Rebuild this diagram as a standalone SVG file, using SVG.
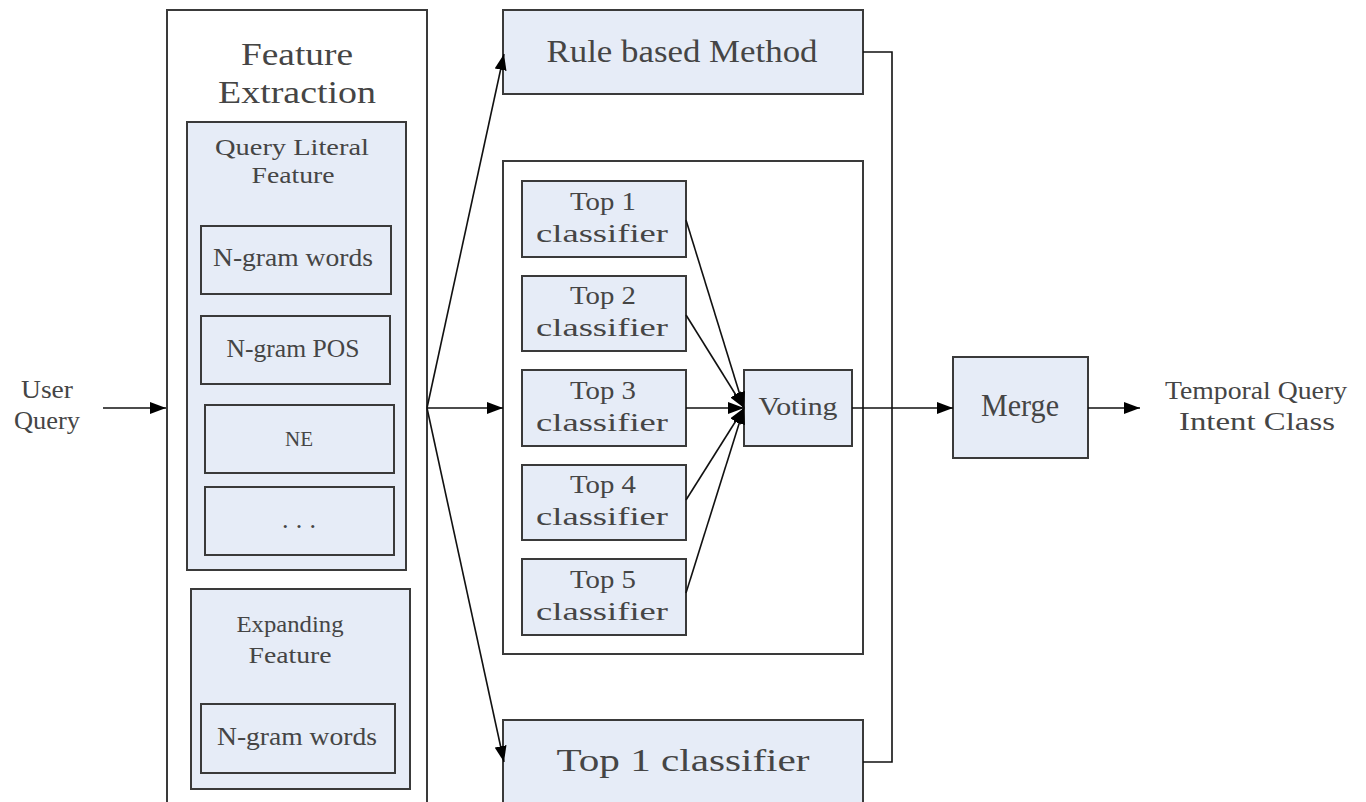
<svg xmlns="http://www.w3.org/2000/svg" width="1366" height="802" viewBox="0 0 1366 802">
<defs>
<style>
.box{fill:#e6ecf7;stroke:#3a3a3a;stroke-width:2}
.frame{fill:#ffffff;stroke:#3a3a3a;stroke-width:2}
.t{font-family:"Liberation Serif","DejaVu Serif",serif;fill:#454545;text-anchor:middle}
.big{font-size:31px}
.med{font-size:26px}
.sml{font-size:23px}
.c{fill:none;stroke:#111;stroke-width:1.6}
</style>
<marker id="ah" viewBox="0 0 16 12" refX="16" refY="6" markerWidth="16" markerHeight="12" markerUnits="userSpaceOnUse" orient="auto">
<path d="M0,0 L16,6 L0,12 z" fill="#000"/>
</marker>
</defs>
<rect width="1366" height="802" fill="#ffffff"/>

<g id="user-query">
<text class="t med" x="47" y="398" textLength="52" lengthAdjust="spacingAndGlyphs">User</text>
<text class="t med" x="47" y="429" textLength="66" lengthAdjust="spacingAndGlyphs">Query</text>
</g>

<g id="feature-extraction">
<rect class="frame" x="167" y="10" width="260" height="800"/>
<text class="t big" x="297" y="65" textLength="112" lengthAdjust="spacingAndGlyphs">Feature</text>
<text class="t big" x="297" y="103" textLength="158" lengthAdjust="spacingAndGlyphs">Extraction</text>
</g>

<g id="query-literal-feature">
<rect class="box" x="187" y="122" width="219" height="448"/>
<text class="t sml" x="292" y="155" textLength="154" lengthAdjust="spacingAndGlyphs">Query Literal</text>
<text class="t sml" x="293" y="183" textLength="83" lengthAdjust="spacingAndGlyphs">Feature</text>
</g>
<g id="ngram-words-1">
<rect class="box" x="201" y="226" width="190" height="68"/>
<text class="t med" x="293" y="266" textLength="160" lengthAdjust="spacingAndGlyphs">N-gram words</text>
</g>
<g id="ngram-pos">
<rect class="box" x="201" y="316" width="189" height="68"/>
<text class="t med" x="293" y="357" textLength="133" lengthAdjust="spacingAndGlyphs">N-gram POS</text>
</g>
<g id="ne">
<rect class="box" x="205" y="405" width="189" height="68"/>
<text class="t" x="299" y="446" style="font-size:22px" textLength="28" lengthAdjust="spacingAndGlyphs">NE</text>
</g>
<g id="ellipsis">
<rect class="box" x="205" y="487" width="189" height="68"/>
<text class="t med" x="299" y="528" textLength="34" lengthAdjust="spacing">...</text>
</g>

<g id="expanding-feature">
<rect class="box" x="191" y="589" width="219" height="200"/>
<text class="t sml" x="290" y="632" textLength="107" lengthAdjust="spacingAndGlyphs">Expanding</text>
<text class="t sml" x="290" y="663" textLength="83" lengthAdjust="spacingAndGlyphs">Feature</text>
</g>
<g id="ngram-words-2">
<rect class="box" x="201" y="704" width="194" height="69"/>
<text class="t med" x="297" y="745" textLength="160" lengthAdjust="spacingAndGlyphs">N-gram words</text>
</g>

<g id="rule-based-method">
<rect class="box" x="503" y="10" width="360" height="84"/>
<text class="t big" x="682" y="62" textLength="271" lengthAdjust="spacingAndGlyphs">Rule based Method</text>
</g>

<g id="ensemble">
<rect class="frame" x="503" y="161" width="360" height="493"/>
</g>

<g id="top1">
<rect class="box" x="522" y="181" width="164" height="76"/>
<text class="t med" x="603" y="210" textLength="66" lengthAdjust="spacingAndGlyphs">Top 1</text>
<text class="t med" x="602" y="242" textLength="132" lengthAdjust="spacingAndGlyphs">classifier</text>
</g>
<g id="top2">
<rect class="box" x="522" y="276" width="164" height="75"/>
<text class="t med" x="603" y="304" textLength="66" lengthAdjust="spacingAndGlyphs">Top 2</text>
<text class="t med" x="602" y="336" textLength="132" lengthAdjust="spacingAndGlyphs">classifier</text>
</g>
<g id="top3">
<rect class="box" x="522" y="370" width="164" height="76"/>
<text class="t med" x="603" y="399" textLength="66" lengthAdjust="spacingAndGlyphs">Top 3</text>
<text class="t med" x="602" y="431" textLength="132" lengthAdjust="spacingAndGlyphs">classifier</text>
</g>
<g id="top4">
<rect class="box" x="522" y="465" width="164" height="75"/>
<text class="t med" x="603" y="493" textLength="66" lengthAdjust="spacingAndGlyphs">Top 4</text>
<text class="t med" x="602" y="525" textLength="132" lengthAdjust="spacingAndGlyphs">classifier</text>
</g>
<g id="top5">
<rect class="box" x="522" y="559" width="164" height="76"/>
<text class="t med" x="603" y="588" textLength="66" lengthAdjust="spacingAndGlyphs">Top 5</text>
<text class="t med" x="602" y="620" textLength="132" lengthAdjust="spacingAndGlyphs">classifier</text>
</g>
<g id="voting">
<rect class="box" x="744" y="370" width="108" height="76"/>
<text class="t med" x="798" y="415" textLength="79" lengthAdjust="spacingAndGlyphs">Voting</text>
</g>

<g id="top1-single">
<rect class="box" x="503" y="720" width="360" height="100"/>
<text class="t big" x="683" y="771" textLength="253" lengthAdjust="spacingAndGlyphs">Top 1 classifier</text>
</g>

<g id="merge">
<rect class="box" x="953" y="357" width="135" height="101"/>
<text class="t big" x="1020" y="416" textLength="78" lengthAdjust="spacingAndGlyphs">Merge</text>
</g>

<g id="output">
<text class="t med" x="1256" y="399" textLength="182" lengthAdjust="spacingAndGlyphs">Temporal Query</text>
<text class="t med" x="1257" y="430" textLength="156" lengthAdjust="spacingAndGlyphs">Intent Class</text>
</g>

<g id="connectors">
<line class="c" x1="103" y1="408" x2="166" y2="408" marker-end="url(#ah)"/>
<line class="c" x1="427" y1="408" x2="503" y2="408" marker-end="url(#ah)"/>
<line class="c" x1="427" y1="408" x2="504" y2="54" marker-end="url(#ah)"/>
<line class="c" x1="427" y1="408" x2="504" y2="762" marker-end="url(#ah)"/>
<line class="c" x1="686" y1="220" x2="744" y2="408" marker-end="url(#ah)"/>
<line class="c" x1="686" y1="315" x2="744" y2="408" marker-end="url(#ah)"/>
<line class="c" x1="686" y1="408" x2="744" y2="408" marker-end="url(#ah)"/>
<line class="c" x1="686" y1="500" x2="744" y2="408" marker-end="url(#ah)"/>
<line class="c" x1="686" y1="593" x2="744" y2="408" marker-end="url(#ah)"/>
<line class="c" x1="852" y1="408" x2="953" y2="408" marker-end="url(#ah)"/>
<polyline class="c" points="863,52 892,52 892,762 863,762"/>
<line class="c" x1="1088" y1="408" x2="1140" y2="408" marker-end="url(#ah)"/>
</g>
</svg>
